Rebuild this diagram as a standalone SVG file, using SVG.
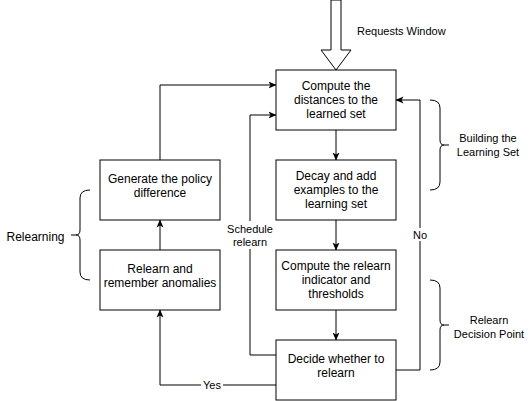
<svg xmlns="http://www.w3.org/2000/svg" width="531" height="401" viewBox="0 0 531 401">
<style>
.box{fill:#fff;stroke:#000;stroke-width:1}
.t{font-family:"Liberation Sans",Arial,Helvetica,sans-serif;font-size:12px;fill:#000;text-anchor:middle}
.l{font-family:"Liberation Sans",Arial,Helvetica,sans-serif;font-size:11px;fill:#000;text-anchor:middle}
.c{fill:none;stroke:#000;stroke-width:1}
.bg{fill:#fff;stroke:none}
</style>
<defs>
<marker id="arr" viewBox="0 0 8 8" markerWidth="8" markerHeight="8" refX="7.5" refY="4" orient="auto" markerUnits="userSpaceOnUse">
<path d="M0,0.5 L8,4 L0,7.5 L2,4 Z" fill="#000"/>
</marker>
</defs>
<rect width="531" height="401" fill="#fff"/>
<g id="connectors">
<path class="c" d="M336,130 L336,160" marker-end="url(#arr)"/>
<path class="c" d="M336,220 L336,250" marker-end="url(#arr)"/>
<path class="c" d="M336,310 L336,340" marker-end="url(#arr)"/>
<path class="c" d="M160,250 L160,220" marker-end="url(#arr)"/>
<path class="c" d="M160,160 L160,85 L276,85" marker-end="url(#arr)"/>
<path class="c" d="M276,355 L250,355 L250,115 L276,115" marker-end="url(#arr)"/>
<path class="c" d="M276,385 L160,385 L160,310" marker-end="url(#arr)"/>
<path class="c" d="M396,370 L420,370 L420,100 L396,100" marker-end="url(#arr)"/>
<rect class="bg" x="223" y="221" width="54" height="28"/>
<text class="l" x="250" y="233">Schedule</text>
<text class="l" x="250" y="246">relearn</text>
<rect class="bg" x="201" y="378" width="22" height="13"/>
<text class="l" x="212" y="389">Yes</text>
<rect class="bg" x="411" y="228" width="18" height="13"/>
<text class="l" x="420" y="239">No</text>
</g>
<g id="requests-window">
<polygon class="box" points="331,0 341,0 341,50 351,50 336,70 321,50 331,50"/>
<text class="l" x="357" y="35" style="text-anchor:start">Requests Window</text>
</g>
<g id="compute-distances">
<rect class="box" x="276" y="70" width="120" height="60"/>
<text class="t" x="336" y="90.3">Compute the</text>
<text class="t" x="336" y="104.3">distances to the</text>
<text class="t" x="336" y="118.3">learned set</text>
</g>
<g id="decay-add">
<rect class="box" x="276" y="160" width="120" height="60"/>
<text class="t" x="336" y="180.3">Decay and add</text>
<text class="t" x="336" y="194.3">examples to the</text>
<text class="t" x="336" y="208.3">learning set</text>
</g>
<g id="compute-indicator">
<rect class="box" x="276" y="250" width="120" height="60"/>
<text class="t" x="336" y="270.3">Compute the relearn</text>
<text class="t" x="336" y="284.3">indicator and</text>
<text class="t" x="336" y="298.3">thresholds</text>
</g>
<g id="decide">
<rect class="box" x="276" y="340" width="120" height="60"/>
<text class="t" x="336" y="363.3">Decide whether to</text>
<text class="t" x="336" y="377.3">relearn</text>
</g>
<g id="generate-policy">
<rect class="box" x="100" y="160" width="120" height="60"/>
<text class="t" x="160" y="183.3">Generate the policy</text>
<text class="t" x="160" y="197.3">difference</text>
</g>
<g id="relearn-remember">
<rect class="box" x="100" y="250" width="120" height="60"/>
<text class="t" x="160" y="273.3">Relearn and</text>
<text class="t" x="160" y="287.3">remember anomalies</text>
</g>
<g id="building-brace">
<path class="c" d="M430,100 Q440,100 440,108 L440,140 Q440,145 444,145 L449,145 M444,145 Q440,145 440,150 L440,182 Q440,190 430,190"/>
<text class="l" x="488" y="142">Building the</text>
<text class="l" x="488" y="156">Learning Set</text>
</g>
<g id="decision-brace">
<path class="c" d="M430,280 Q440,280 440,288 L440,320 Q440,325 444,325 L449,325 M444,325 Q440,325 440,330 L440,362 Q440,370 430,370"/>
<text class="l" x="489" y="324">Relearn</text>
<text class="l" x="489" y="338">Decision Point</text>
</g>
<g id="relearning-brace">
<path class="c" d="M90,190 Q80,190 80,198 L80,230 Q80,235 76,235 L71,235 M76,235 Q80,235 80,240 L80,272 Q80,280 90,280"/>
<text class="t" x="35.5" y="240.5">Relearning</text>
</g>
</svg>
